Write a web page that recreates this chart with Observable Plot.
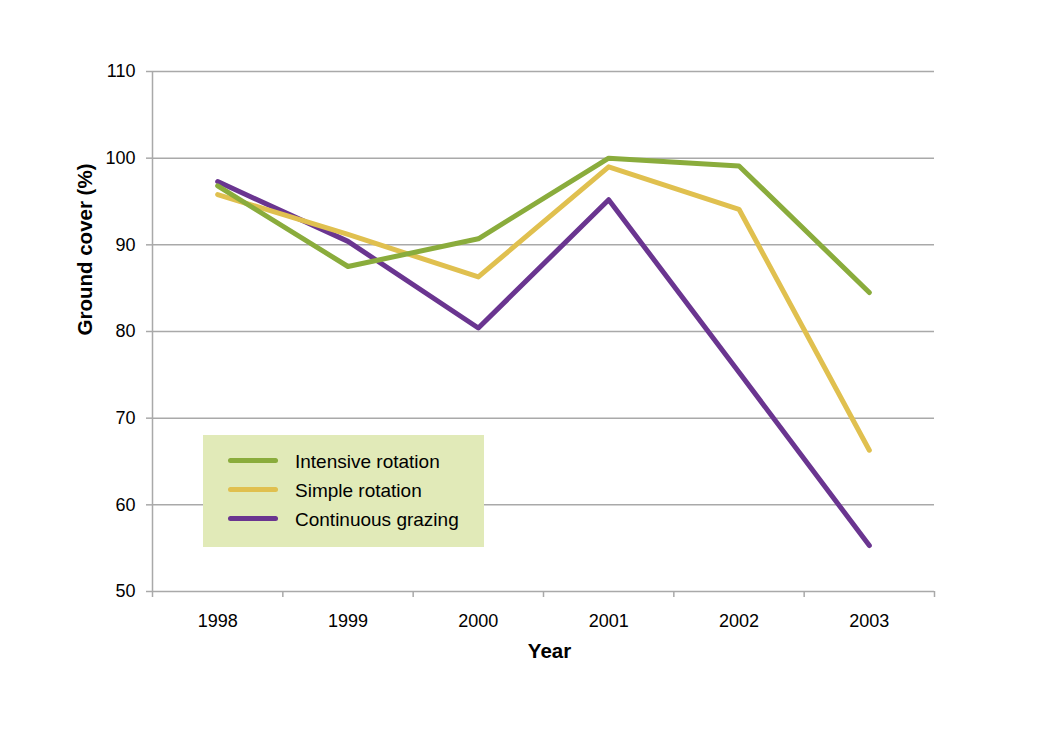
<!DOCTYPE html>
<html><head><meta charset="utf-8">
<script src="https://cdn.jsdelivr.net/npm/d3@7"></script>
<script src="https://cdn.jsdelivr.net/npm/@observablehq/plot@0.6"></script>
<style>
body{margin:0;background:#fff;font-family:"Liberation Sans",Arial,sans-serif}
#wrap{position:relative;width:1040px;height:740px}
#legend{position:absolute;left:203px;top:435px;width:281px;height:112px;background:#e1eab8}
.item{position:absolute;left:25px;height:22px;font-size:19px;color:#000;line-height:22px}
.swatch{position:absolute;left:0;top:8px;width:50px;height:5px;border-radius:3px}
.lab{position:absolute;left:67px;top:1px;white-space:nowrap}
</style></head><body><div id="wrap"></div>
<script>
const years = [1998, 1999, 2000, 2001, 2002, 2003];
const intensive = [96.8, 87.5, 90.7, 100.0, 99.1, 84.5];
const simple = [95.8, 91.2, 86.3, 99.0, 94.1, 66.3];
const continuous = [97.3, 90.4, 80.4, 95.2, 75.3, 55.3];
const seriesNames = ["Intensive rotation", "Simple rotation", "Continuous grazing"];
const seriesColors = ["#8aac3c", "#e0c04f", "#6a3590"];
const yTicks = [50, 60, 70, 80, 90, 100, 110];
const yLabel = "Ground cover (%)";
const xLabel = "Year";

const seriesValues = [intensive, simple, continuous];
const rows = [];
// draw order: continuous (bottom), simple, intensive (top)
[2, 1, 0].forEach(s => years.forEach((yr, i) => rows.push({year: yr, value: seriesValues[s][i], series: seriesNames[s]})));
const boundaries = years.map(y => y - 0.5).concat([years[years.length - 1] + 0.5]);
const grid = "#a9a9a9";

const chart = Plot.plot({
  width: 1040, height: 740,
  marginLeft: 152, marginRight: 106, marginTop: 71, marginBottom: 149,
  x: {domain: [boundaries[0], boundaries[boundaries.length - 1]]},
  y: {domain: [yTicks[0], yTicks[yTicks.length - 1]]},
  color: {domain: seriesNames, range: seriesColors},
  style: {fontFamily: '"Liberation Sans", Arial, sans-serif', fontSize: "18px", color: "#000", background: "transparent"},
  marks: [
    Plot.ruleY(yTicks, {stroke: grid, strokeWidth: 1.5}),
    Plot.ruleX([boundaries[0]], {stroke: grid, strokeWidth: 1.5}),
    Plot.axisY({ticks: yTicks, tickSize: 6, tickPadding: 11, tickFormat: d => String(d), label: null, stroke: grid, strokeWidth: 1.5, fill: "#000", fontSize: 18}),
    Plot.axisX({ticks: boundaries, tickSize: 6, tickFormat: () => "", label: null, stroke: grid, strokeWidth: 1.5}),
    Plot.axisX({ticks: years, tickSize: 0, tickPadding: 23, tickFormat: d => String(d), label: null, fill: "#000", fontSize: 18}),
    Plot.line(rows, {x: "year", y: "value", z: "series", stroke: "series", strokeWidth: 5, strokeLinecap: "round", strokeLinejoin: "round"}),
    Plot.text([yLabel], {text: d => d, frameAnchor: "left", dx: -67, dy: 4, rotate: -90, fontWeight: "bold", fontSize: 20.5, fill: "#000"}),
    Plot.text([xLabel], {text: d => d, frameAnchor: "bottom", dx: 6, dy: 66, fontWeight: "bold", fontSize: 20.5, fill: "#000"})
  ]
});
const wrap = document.getElementById("wrap");
wrap.appendChild(chart);

const legend = document.createElement("div");
legend.id = "legend";
seriesNames.forEach((name, i) => {
  const item = document.createElement("div");
  item.className = "item";
  item.style.top = (15 + [0, 29, 58][i]) + "px";
  const sw = document.createElement("div");
  sw.className = "swatch";
  sw.style.background = seriesColors[i];
  const lab = document.createElement("div");
  lab.className = "lab";
  lab.textContent = name;
  item.appendChild(sw);
  item.appendChild(lab);
  legend.appendChild(item);
});
wrap.appendChild(legend);
</script>
</body></html>
